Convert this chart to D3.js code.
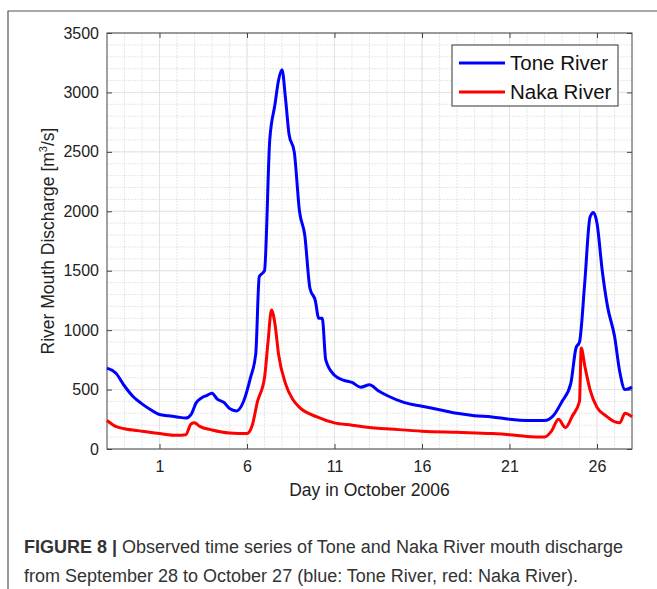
<!DOCTYPE html>
<html>
<head>
<meta charset="utf-8">
<script src="https://cdn.jsdelivr.net/npm/d3@7"></script>
<style>
body { margin: 0; background: #fff; font-family: "Liberation Sans", Arial, sans-serif; }
</style>
</head>
<body>
<div id="chart"></div>
<script>
// Data (day in October 2006, discharge m3/s)
var toneDays = [-2,-1.5,-1,-0.5,0,0.5,1,1.5,2,2.5,2.8,3.1,3.4,3.7,4,4.3,4.7,5,5.4,5.8,6.2,6.5,6.7,7,7.3,7.6,7.8,8,8.2,8.4,8.7,9,9.3,9.6,9.9,10.1,10.3,10.5,11,11.5,12,12.5,13,13.5,14,15,16,17,18,19,20,21,22,23,23.5,24,24.5,24.8,25,25.3,25.6,25.8,26,26.3,26.6,27,27.3,27.6,28];
var toneVals = [680,640,530,440,380,330,290,280,270,260,290,390,430,450,470,420,390,340,320,400,600,800,1450,1500,2600,2900,3100,3190,2950,2650,2500,2000,1800,1350,1250,1100,1100,750,620,580,560,520,540,490,450,390,360,330,300,280,270,250,240,240,280,400,550,850,900,1400,1950,1990,1900,1500,1200,950,650,500,520];
var nakaDays = [-2,-1.5,-1,0,1,2,2.5,2.8,3,3.3,4,5,6,6.3,6.6,7,7.2,7.4,7.6,7.8,8.2,8.6,9,10,11,12,13,14,16,18,20,21,22,23,23.4,23.8,24.2,24.6,25,25.1,25.3,25.6,26,26.5,27,27.3,27.6,28];
var nakaVals = [240,190,170,150,130,115,120,210,220,190,160,135,130,200,400,600,900,1170,1050,800,550,420,350,270,220,200,180,170,150,140,130,120,105,100,150,250,180,280,400,850,700,500,350,280,230,220,300,270];
var xTicks = [1,6,11,16,21,26];
var yTicks = [0,500,1000,1500,2000,2500,3000,3500];
var seriesNames = ["Tone River","Naka River"];
var seriesColors = ["#0000ff","#ff0000"];

var width = 657, height = 589;
var pL = 107, pR = 632, pT = 33, pB = 449;

var svg = d3.select("#chart").append("svg").attr("width", width).attr("height", height);

// figure frame
svg.append("path").attr("d", "M8,589V11H660").attr("fill", "none").attr("stroke", "#555").attr("stroke-width", 1.2);

var x = d3.scaleLinear().domain([-2, 28]).range([pL, pR]);
var y = d3.scaleLinear().domain([0, 3500]).range([pB, pT]);

// minor grid
var g = svg.append("g");
g.selectAll(".vx").data(d3.range(-1, 28)).enter().append("line")
    .attr("x1", d => x(d)).attr("x2", d => x(d)).attr("y1", pT).attr("y2", pB)
    .attr("stroke", "#ddd").attr("stroke-dasharray", "2,1").attr("stroke-width", 0.7);
g.selectAll(".hy").data(d3.range(100, 3500, 100)).enter().append("line")
    .attr("y1", d => y(d)).attr("y2", d => y(d)).attr("x1", pL).attr("x2", pR)
    .attr("stroke", "#ddd").attr("stroke-dasharray", "2,1").attr("stroke-width", 0.7);
// major grid
g.selectAll(".mx").data(xTicks).enter().append("line")
    .attr("x1", d => x(d)).attr("x2", d => x(d)).attr("y1", pT).attr("y2", pB)
    .attr("stroke", "#e3e3e3").attr("stroke-width", 1);
g.selectAll(".my").data(yTicks).enter().append("line")
    .attr("y1", d => y(d)).attr("y2", d => y(d)).attr("x1", pL).attr("x2", pR)
    .attr("stroke", "#e3e3e3").attr("stroke-width", 1);

// axes
var xAxis = svg.append("g").attr("transform", "translate(0," + pB + ")")
    .call(d3.axisBottom(x).tickValues(xTicks).tickSize(-5).tickPadding(12));
var yAxis = svg.append("g").attr("transform", "translate(" + pL + ",0)")
    .call(d3.axisLeft(y).tickValues(yTicks).tickFormat(d3.format("d")).tickSize(-5).tickPadding(8));
[xAxis, yAxis].forEach(function(a) {
    a.select(".domain").remove();
    a.selectAll("line").attr("stroke", "#444");
    a.selectAll("text").attr("font-size", 16).attr("fill", "#222").attr("font-family", "Liberation Sans, Arial");
});
svg.append("g").attr("transform", "translate(" + pR + ",0)")
    .call(d3.axisRight(y).tickValues(yTicks).tickSize(-5).tickFormat(""))
    .call(a => { a.select(".domain").remove(); a.selectAll("line").attr("stroke", "#444"); });
svg.append("g").attr("transform", "translate(0," + pT + ")")
    .call(d3.axisTop(x).tickValues(xTicks).tickSize(-5).tickFormat(""))
    .call(a => { a.select(".domain").remove(); a.selectAll("line").attr("stroke", "#444"); });
svg.append("rect").attr("x", pL).attr("y", pT).attr("width", pR - pL).attr("height", pB - pT)
    .attr("fill", "none").attr("stroke", "#444").attr("stroke-width", 1);

// lines
var line = d3.line().curve(d3.curveMonotoneX).x(d => x(d[0])).y(d => y(d[1]));
var series = [d3.zip(toneDays, toneVals), d3.zip(nakaDays, nakaVals)];
svg.selectAll(".series").data(series).enter().append("path")
    .attr("d", line).attr("fill", "none")
    .attr("stroke", (d, i) => seriesColors[i]).attr("stroke-width", 3).attr("stroke-linejoin", "round");

// axis labels
svg.append("text").attr("x", (pL + pR) / 2).attr("y", 496).attr("text-anchor", "middle")
    .attr("font-size", 17.5).attr("fill", "#222").text("Day in October 2006");
var yl = svg.append("text").attr("transform", "translate(54," + ((pT + pB) / 2) + ") rotate(-90)")
    .attr("text-anchor", "middle").attr("font-size", 17.5).attr("fill", "#222");
yl.append("tspan").text("River Mouth Discharge [m");
yl.append("tspan").attr("font-size", 11).attr("dy", -7).text("3");
yl.append("tspan").attr("dy", 7).text("/s]");

// legend
var lg = svg.append("g");
lg.append("rect").attr("x", 452).attr("y", 45).attr("width", 166).attr("height", 61)
    .attr("fill", "#fff").attr("stroke", "#333");
seriesNames.forEach(function(n, i) {
    var ly = 63 + i * 29;
    lg.append("line").attr("x1", 459).attr("x2", 505).attr("y1", ly).attr("y2", ly)
        .attr("stroke", seriesColors[i]).attr("stroke-width", 3);
    lg.append("text").attr("x", 510).attr("y", ly + 7).attr("font-size", 20.5).attr("fill", "#111").text(n);
});

// caption
var cap = svg.append("g").attr("font-size", 18).attr("fill", "#333");
var c1 = cap.append("text").attr("x", 24).attr("y", 553);
c1.append("tspan").attr("font-weight", "bold").text("FIGURE 8 | ");
c1.append("tspan").text("Observed time series of Tone and Naka River mouth discharge");
cap.append("text").attr("x", 24).attr("y", 582).text("from September 28 to October 27 (blue: Tone River, red: Naka River).");
</script>
</body>
</html>
